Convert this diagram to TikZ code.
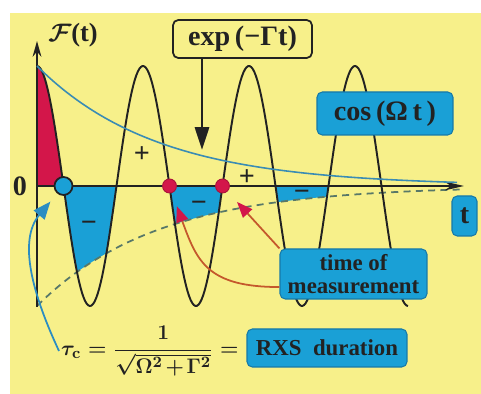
\documentclass[tikz,border=0pt]{standalone}
\usepackage{amsmath,amssymb}
\usepackage{fontspec}
\setmainfont{Liberation Serif}
\usetikzlibrary{arrows.meta, positioning}
\definecolor{bgyellow}{HTML}{F7F08A}
\definecolor{lobeblue}{HTML}{1AA0D6}
\definecolor{lobered}{HTML}{D3164A}
\definecolor{boxedge}{HTML}{1679A8}
\definecolor{envblue}{HTML}{3A8CB4}
\definecolor{envdash}{HTML}{587868}
\definecolor{inkdark}{HTML}{222222}
\definecolor{markline}{HTML}{C4582C}
\definecolor{tauline}{HTML}{2B8DC2}
\tikzset{
  axisline/.style={inkdark, line width=1.1pt, -{Stealth[length=9pt, width=5pt]}},
  wave/.style={inkdark, line width=1.1pt},
  labelbox/.style={rounded corners=3pt, draw=boxedge, fill=lobeblue, line width=0.6pt, text=inkdark,
                   align=center, inner sep=1pt, font=\fontsize{13}{13}\selectfont\bfseries},
  expbox/.style={rounded corners=3pt, draw=inkdark, fill=bgyellow, line width=1pt, text=inkdark,
                 inner sep=1pt, font=\fontsize{16}{16}\selectfont\bfseries},
  signlabel/.style={text=inkdark, font=\fontsize{16}{16}\selectfont\bfseries},
  formula/.style={text=inkdark, inner sep=1pt, font=\fontsize{12.5}{15}\selectfont\boldmath},
  zerodot/.style={circle, draw=inkdark, fill=lobeblue, line width=1pt, inner sep=0pt, minimum size=0.36cm},
  measdot/.style={circle, draw=lobered!80!black, fill=lobered, line width=0.5pt, inner sep=0pt, minimum size=0.28cm},
  markarrow/.style={-{Triangle[length=9pt, width=7pt, color=lobered]}, markline, line width=1pt, shorten >=8pt},
  tauarrow/.style={-{Triangle[length=10pt, width=8pt]}, tauline, line width=1pt, shorten >=6pt},
  exparrow/.style={-{Triangle[length=13pt, width=8pt]}, inkdark, line width=1.6pt},
}
\begin{document}
\begin{tikzpicture}[x=0.02cm, y=0.02cm]
  \useasboundingbox (-37,-208) rectangle (444,186);
  \fill[white] (-37,-208) rectangle (444,186);
  \fill[bgyellow] (-27,-208) rectangle (444,173);

  \coordinate (O) at (0,0);
  \coordinate (ytop) at (0,145);
  \coordinate (ybot) at (0,-121);
  \coordinate (xend) at (427,0);

  \fill[lobered] (O) -- plot[domain=0:26.5, samples=30] (\x,{min(120*cos(\x/106*360),120*exp(-\x/120))}) -- cycle;
  \foreach \a/\b in {26.5/79.5, 132.5/185.5, 238.5/291.5}
    \fill[lobeblue] (\a,0) -- plot[domain=\a:\b, samples=60] (\x,{max(120*cos(\x/106*360),-120*exp(-\x/120))}) -- cycle;

  \draw[envdash, line width=1pt, dash pattern=on 4pt off 3pt] plot[domain=0:425, samples=100] (\x,{-120*exp(-\x/120)});
  \draw[axisline] (ybot) -- (ytop);
  \draw[axisline, -{Stealth[length=11pt, width=5pt]}] (O) -- (xend);
  \draw[wave] plot[domain=0:371, samples=240] (\x,{120*cos(\x/106*360)});
  \draw[envblue, line width=0.9pt] plot[domain=0:420, samples=100] (\x,{120*exp(-\x/120)});

  \node[signlabel] (zero) at (-17,0) {0};
  \node[signlabel, font=\fontsize{15}{15}\selectfont\bfseries\boldmath] (Ft) at (36,151) {$\mathcal{F}$(t)};
  \node[signlabel] (plusA) at (105,31) {+};
  \node[signlabel] (plusB) at (210,8) {+};
  \node[signlabel] (minusA) at (52,-40) {−};
  \node[signlabel] (minusB) at (162,-20) {−};
  \node[signlabel] (minusC) at (265,-9) {−};

  \node[zerodot] (z0) at (26.5,0) {};
  \node[measdot] (m1) at (132.5,0) {};
  \node[measdot] (m2) at (185.5,0) {};

  \node[expbox, minimum width=2.78cm, minimum height=0.76cm] (expnode) at (205.5,147) {exp\,(−Γt)};
  \coordinate (exptip) at (165,36);
  \draw[exparrow] (expnode.south -| exptip) -- (exptip);

  \node[labelbox, minimum width=2.72cm, minimum height=0.86cm, font=\fontsize{16}{16}\selectfont\bfseries] (cosnode) at (348,72.5) {cos\,(Ω\,t\,)};
  \node[labelbox, minimum width=0.5cm, minimum height=0.8cm, font=\fontsize{16}{16}\selectfont\bfseries] (tnode) at (427.5,-30) {t};
  \node[labelbox, minimum width=2.94cm, minimum height=1.0cm] (tmnode) at (316.5,-88) {time of\\measurement};
  \node[labelbox, minimum width=3.2cm, minimum height=0.76cm] (rxsnode) at (290,-162) {RXS\enspace duration};
  \node[formula, anchor=west] (taunode) at (22,-165) {$\displaystyle \medmuskip=2mu \tau_{\mathbf{c}} = \frac{1}{\sqrt{\Omega^{2}+\Gamma^{2}}} =$};

  \draw[markarrow] (tmnode.north west) -- (m2);
  \draw[markarrow] (tmnode.190) to[out=180, in=-70, looseness=1.3] (m1);
  \draw[tauarrow] (taunode.west) to[out=115, in=-130] (z0);
\end{tikzpicture}
\end{document}
